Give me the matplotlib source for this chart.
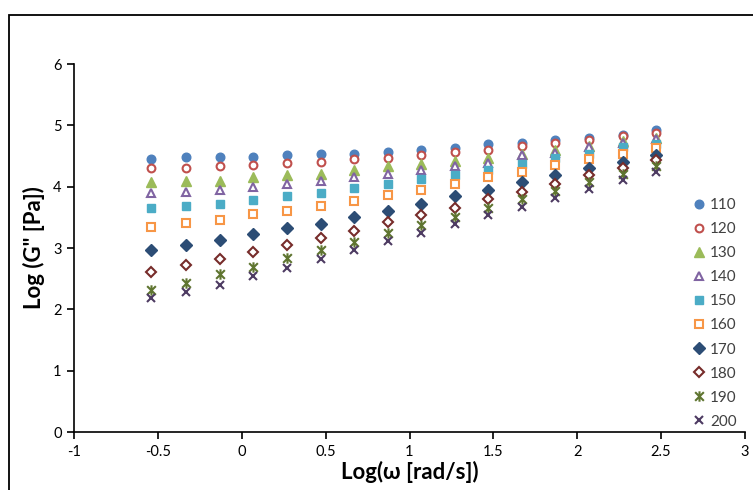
import numpy as np
import matplotlib
matplotlib.use("Agg")
import matplotlib.pyplot as plt
from matplotlib.patches import Rectangle
from matplotlib.path import Path

plt.rcParams['font.family'] = ['Lato', 'DejaVu Sans']

# log(omega) values (x)
log_w = [-0.54, -0.33, -0.13, 0.07, 0.27, 0.47, 0.67, 0.87,
         1.07, 1.27, 1.47, 1.67, 1.87, 2.07, 2.27, 2.47]

temps = ['110', '120', '130', '140', '150', '160', '170', '180', '190', '200']

g110 = [4.45, 4.49, 4.49, 4.49, 4.51, 4.54, 4.54, 4.57, 4.60, 4.63, 4.69, 4.72, 4.76, 4.80, 4.85, 4.92]
g120 = [4.30, 4.30, 4.33, 4.36, 4.39, 4.41, 4.45, 4.47, 4.51, 4.57, 4.60, 4.66, 4.71, 4.76, 4.83, 4.87]
g130 = [4.07, 4.09, 4.09, 4.15, 4.19, 4.21, 4.27, 4.34, 4.37, 4.42, 4.47, 4.53, 4.59, 4.67, 4.74, 4.80]
g140 = [3.89, 3.92, 3.95, 4.00, 4.04, 4.09, 4.15, 4.21, 4.27, 4.34, 4.39, 4.51, 4.55, 4.64, 4.72, 4.78]
g150 = [3.65, 3.69, 3.71, 3.78, 3.84, 3.89, 3.98, 4.04, 4.13, 4.19, 4.27, 4.37, 4.46, 4.54, 4.64, 4.70]
g160 = [3.34, 3.41, 3.46, 3.55, 3.61, 3.69, 3.77, 3.86, 3.95, 4.04, 4.15, 4.24, 4.36, 4.45, 4.54, 4.63]
g170 = [2.97, 3.05, 3.13, 3.23, 3.33, 3.39, 3.50, 3.61, 3.72, 3.84, 3.95, 4.08, 4.19, 4.30, 4.41, 4.52]
g180 = [2.61, 2.72, 2.82, 2.93, 3.05, 3.16, 3.27, 3.42, 3.54, 3.66, 3.80, 3.92, 4.04, 4.19, 4.30, 4.43]
g190 = [2.32, 2.43, 2.58, 2.69, 2.84, 2.96, 3.10, 3.25, 3.37, 3.51, 3.66, 3.80, 3.93, 4.07, 4.20, 4.34]
g200 = [2.19, 2.28, 2.40, 2.55, 2.67, 2.82, 2.96, 3.11, 3.25, 3.39, 3.54, 3.67, 3.82, 3.97, 4.11, 4.24]

series = [g110, g120, g130, g140, g150, g160, g170, g180, g190, g200]

# excel style "star" marker: x with a vertical bar
star = Path([(-1, -1), (1, 1), (-1, 1), (1, -1), (0, -1.2), (0, 1.2)],
            [Path.MOVETO, Path.LINETO, Path.MOVETO, Path.LINETO, Path.MOVETO, Path.LINETO])

styles = [
    dict(marker='o', color='#4F81BD', mfc='#4F81BD', ms=6.2),
    dict(marker='o', color='#C0504D', mfc='white', ms=5.6, mew=1.5),
    dict(marker='^', color='#9BBB59', mfc='#9BBB59', ms=6.6),
    dict(marker='^', color='#8064A2', mfc='white', ms=5.8, mew=1.5),
    dict(marker='s', color='#4BACC6', mfc='#4BACC6', ms=5.8),
    dict(marker='s', color='#F79646', mfc='white', ms=5.4, mew=1.5),
    dict(marker='D', color='#2C4D75', mfc='#2C4D75', ms=6.0),
    dict(marker='D', color='#772C2A', mfc='white', ms=5.4, mew=1.5),
    dict(marker=star, color='#5F7530', mfc='none', ms=7.5, mew=1.5),
    dict(marker='x', color='#4D3B62', mfc='none', ms=6.4, mew=1.5),
]

fig = plt.figure(figsize=(7.53, 4.90), dpi=100)
ax = fig.add_axes([74 / 753, 1 - 432 / 490, 671 / 753, 368 / 490])

for name, ys, st in zip(temps, series, styles):
    ax.plot(log_w, ys, linestyle='none', label=name, **st)

ax.set_xlim(-1, 3)
ax.set_ylim(0, 6)
ax.set_xticks([-1, -0.5, 0, 0.5, 1, 1.5, 2, 2.5, 3])
ax.set_xticklabels(['-1', '-0.5', '0', '0.5', '1', '1.5', '2', '2.5', '3'])
ax.set_yticks(range(7))
ax.spines['top'].set_visible(False)
ax.spines['right'].set_visible(False)
ax.spines['left'].set_linewidth(1.2)
ax.spines['bottom'].set_linewidth(1.2)
ax.tick_params(direction='out', length=5, width=1.2, labelsize=10.5, colors='black', pad=4)

ax.set_xlabel('Log(ω [rad/s])', fontsize=16, fontweight='bold', labelpad=2)
ax.set_ylabel('Log (G" [Pa])', fontsize=16, fontweight='bold', labelpad=6)

leg = ax.legend(loc='upper left', bbox_to_anchor=(693 / 753, 1 - 198 / 490),
                bbox_transform=fig.transFigure, frameon=False, fontsize=11,
                handlelength=0.8, handletextpad=0.3, labelspacing=0.66,
                borderpad=0, borderaxespad=0)
for t in leg.get_texts():
    t.set_color('#404040')

# outer chart border
fig.patches.append(Rectangle((9 / 753, -0.1), 1.2, 1 - 15 / 490 + 0.1,
                             transform=fig.transFigure, fill=False,
                             edgecolor='black', linewidth=1.3))

plt.savefig('out.png', dpi=100)
